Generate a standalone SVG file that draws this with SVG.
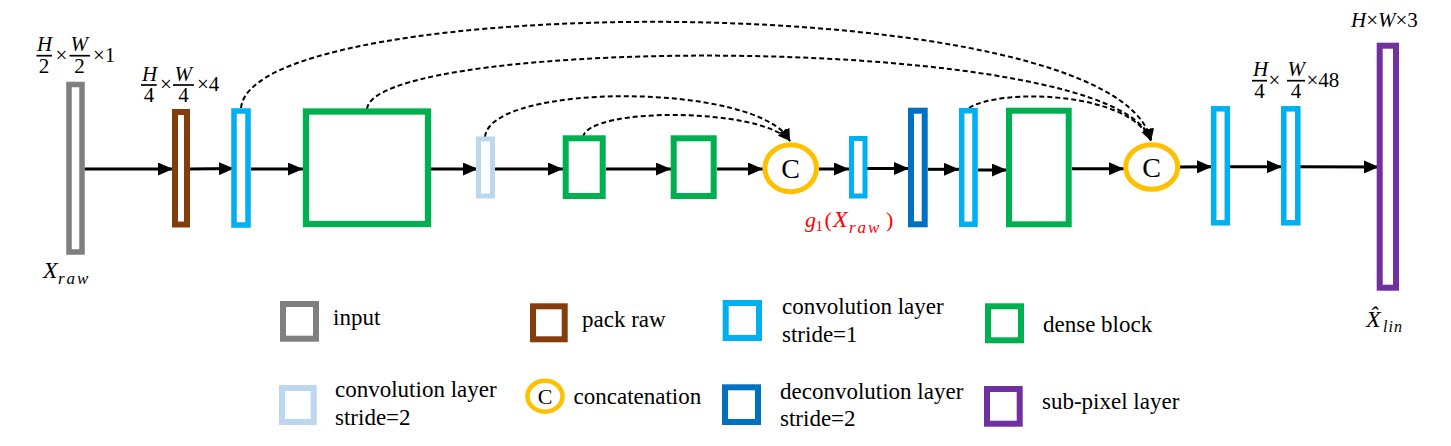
<svg xmlns="http://www.w3.org/2000/svg" width="1451" height="446" viewBox="0 0 1451 446">
<style>
.n{fill:#fff}
.gray{stroke:#7F7F7F}
.brown{stroke:#843C0C}
.conv1{stroke:#00B0F0}
.conv2{stroke:#BDD7EE}
.dense{stroke:#00B050}
.deconv{stroke:#0070C0}
.sub{stroke:#7030A0}
.cat{stroke:#FFC000}
.main{stroke:#000;stroke-width:3;fill:none}
.dash{stroke:#000;stroke-width:2;fill:none;stroke-dasharray:5,3}
.dot{stroke:#000;stroke-width:2.5;fill:none;stroke-dasharray:2,2}
.thin{stroke:#000;stroke-width:1.5;fill:none}
.bar{stroke:#000;stroke-width:1.7}
text{font-family:"Liberation Serif","Times New Roman",serif;fill:#000}
.lg{font-size:23px}
.m{font-size:21px}
.i{font-style:italic}
.red{fill:#FF0000}
</style>
<defs>
<marker id="a" markerUnits="userSpaceOnUse" markerWidth="15" markerHeight="13" refX="15" refY="6.5" orient="auto"><path d="M0,0 L15,6.5 L0,13 z" fill="#000"/></marker>
<marker id="d" markerUnits="userSpaceOnUse" markerWidth="12" markerHeight="11" refX="12" refY="5.5" orient="auto"><path d="M0,0 L12,5.5 L0,11 z" fill="#000"/></marker>
<marker id="s" markerUnits="userSpaceOnUse" markerWidth="11" markerHeight="10" refX="11" refY="5" orient="auto"><path d="M0,0 L11,5 L0,10 z" fill="#000"/></marker>
</defs>

<g id="connectors">
<line class="main" x1="84.5" y1="169" x2="173" y2="169" marker-end="url(#a)"/>
<line class="main" x1="190" y1="169" x2="234" y2="168.5" marker-end="url(#a)"/>
<line class="main" x1="251" y1="169" x2="303" y2="169" marker-end="url(#a)"/>
<line class="main" x1="431" y1="169" x2="478" y2="169" marker-end="url(#a)"/>
<line class="main" x1="495" y1="169" x2="563" y2="169" marker-end="url(#a)"/>
<line class="main" x1="606" y1="169" x2="671" y2="169" marker-end="url(#a)"/>
<line class="main" x1="717" y1="169" x2="763" y2="169" marker-end="url(#a)"/>
<line class="main" x1="819" y1="169" x2="849" y2="169" marker-end="url(#a)"/>
<line class="main" x1="867" y1="168.5" x2="909" y2="168.5" marker-end="url(#a)"/>
<line class="main" x1="928" y1="169.3" x2="959" y2="169.3" marker-end="url(#a)"/>
<line class="main" x1="978" y1="170" x2="1007" y2="170" marker-end="url(#a)"/>
<line class="main" x1="1072" y1="168.7" x2="1124" y2="168.7" marker-end="url(#a)"/>
<line class="main" x1="1180" y1="167" x2="1212" y2="166.7" marker-end="url(#a)"/>
<line class="main" x1="1230" y1="166.7" x2="1282" y2="166.7" marker-end="url(#a)"/>
<line class="main" x1="1300" y1="166.7" x2="1379" y2="167" marker-end="url(#a)"/>

<path class="dash" d="M241,108 C252,-10 1120,-14 1151,141" marker-end="url(#d)"/>
<path class="dash" d="M367,109 C375,35 1120,31 1151,141" marker-end="url(#d)"/>
<path class="dash" d="M485,137 C490,82 760,82 790,141" marker-end="url(#d)"/>
<path class="dash" d="M583,137 C588,107 760,107 790,141" marker-end="url(#d)"/>
<path class="dash" d="M969,108 C1000,88 1130,91 1151,141" marker-end="url(#d)"/>

<line class="thin" x1="316" y1="167.7" x2="419" y2="167.7" marker-end="url(#s)"/>
<path class="dot" d="M316,167 C340,136 395,132 416,166" marker-end="url(#s)"/>
<path class="dot" d="M316,167 C335,150 365,148 379,165" marker-end="url(#s)"/>
<path class="dot" d="M353,167 C370,150 405,148 417,166" marker-end="url(#s)"/>
</g>

<g id="input"><rect class="n gray" x="69" y="84.5" width="13" height="167.5" stroke-width="5.5"/></g>
<g id="packraw"><rect class="n brown" x="175" y="112" width="12" height="112.5" stroke-width="6"/></g>
<g id="conv_a"><rect class="n conv1" x="234" y="111" width="14" height="114" stroke-width="5.5"/></g>
<g id="dense_a"><rect class="n dense" x="306" y="111.5" width="122" height="112.5" stroke-width="6.3"/></g>
<g id="conv_s2"><rect class="n conv2" x="478.5" y="139" width="14" height="57" stroke-width="5"/></g>
<g id="dense_b"><rect class="n dense" x="565.7" y="138.3" width="37" height="57.7" stroke-width="6"/></g>
<g id="dense_c"><rect class="n dense" x="673.7" y="138.3" width="40" height="57.7" stroke-width="6"/></g>
<g id="concat1"><ellipse class="n cat" cx="790.7" cy="168.3" rx="25.8" ry="23.5" stroke-width="5"/><text x="790.7" y="178" font-size="28" text-anchor="middle">C</text></g>
<g id="conv_b"><rect class="n conv1" x="851.5" y="138.5" width="13.5" height="57.5" stroke-width="5"/></g>
<g id="deconv"><rect class="n deconv" x="911" y="110.7" width="13.7" height="113.6" stroke-width="6"/></g>
<g id="conv_c"><rect class="n conv1" x="961.7" y="110.7" width="13.3" height="113.6" stroke-width="5.5"/></g>
<g id="dense_d"><rect class="n dense" x="1009" y="110.7" width="59.7" height="113.6" stroke-width="6"/></g>
<g id="concat2"><ellipse class="n cat" cx="1151.7" cy="167" rx="26" ry="22.3" stroke-width="5"/><text x="1151.7" y="177" font-size="28" text-anchor="middle">C</text></g>
<g id="conv_d"><rect class="n conv1" x="1213.7" y="108.8" width="13.6" height="114" stroke-width="5.5"/></g>
<g id="conv_e"><rect class="n conv1" x="1283.8" y="108.8" width="14" height="114" stroke-width="5.5"/></g>
<g id="subpixel"><rect class="n sub" x="1379.7" y="45.7" width="16.3" height="242" stroke-width="6"/></g>

<g id="labels">
<text class="m i" x="37" y="51">H</text>
<line class="bar" x1="36.5" y1="55.7" x2="52" y2="55.7"/>
<text class="m" x="44" y="73" text-anchor="middle">2</text>
<text class="m" x="55.5" y="62">×</text>
<text class="m i" x="70.5" y="51">W</text>
<line class="bar" x1="69.5" y1="55.7" x2="90" y2="55.7"/>
<text class="m" x="79.5" y="73" text-anchor="middle">2</text>
<text class="m" x="93" y="62">×1</text>

<text class="m i" x="142" y="80.5">H</text>
<line class="bar" x1="141" y1="85" x2="156.7" y2="85"/>
<text class="m" x="149" y="102" text-anchor="middle">4</text>
<text class="m" x="160" y="91">×</text>
<text class="m i" x="174.5" y="80.5">W</text>
<line class="bar" x1="173" y1="85" x2="194" y2="85"/>
<text class="m" x="183.5" y="102" text-anchor="middle">4</text>
<text class="m" x="197" y="91">×4</text>

<text class="m i" x="1253" y="76">H</text>
<line class="bar" x1="1252" y1="80.7" x2="1267" y2="80.7"/>
<text class="m" x="1259.5" y="98" text-anchor="middle">4</text>
<text class="m" x="1268.5" y="86.7">×</text>
<text class="m i" x="1287.5" y="76">W</text>
<line class="bar" x1="1287" y1="80.7" x2="1305" y2="80.7"/>
<text class="m" x="1296" y="98" text-anchor="middle">4</text>
<text class="m" x="1306.5" y="86.7">×48</text>

<text x="1351" y="26.5" font-size="21"><tspan class="i">H</tspan>×<tspan class="i">W</tspan>×3</text>

<text x="43" y="278" font-size="24" class="i">X<tspan x="58" dy="5.5" font-size="17" letter-spacing="2">raw</tspan></text>

<text x="1366" y="327" font-size="24" class="i">X̂<tspan x="1383" dy="5" font-size="16" letter-spacing="1">lin</tspan></text>

<text class="red" x="805" y="227" font-size="22"><tspan class="i">g</tspan><tspan x="815.5" dy="4" font-size="15">1</tspan><tspan x="824.5" dy="-4">(</tspan><tspan x="833" class="i" font-size="24">X</tspan><tspan x="849" dy="5.5" class="i" font-size="17" letter-spacing="2">raw</tspan><tspan x="886" dy="-5.5">)</tspan></text>
</g>

<g id="legend">
<rect class="n gray" x="283" y="304" width="33" height="34.7" stroke-width="6"/>
<text class="lg" x="333" y="325">input</text>
<rect class="n brown" x="533" y="306.3" width="31.7" height="33" stroke-width="6"/>
<text class="lg" x="582" y="327">pack raw</text>
<rect class="n conv1" x="725.7" y="303" width="33.3" height="35" stroke-width="6"/>
<text class="lg" x="782" y="313.5">convolution layer</text>
<text class="lg" x="782" y="341.5">stride=1</text>
<rect class="n dense" x="988" y="306.3" width="33" height="34" stroke-width="6"/>
<text class="lg" x="1043" y="331.5">dense block</text>
<rect class="n conv2" x="282" y="388" width="31.7" height="34" stroke-width="6"/>
<text class="lg" x="335" y="397">convolution layer</text>
<text class="lg" x="335" y="425">stride=2</text>
<ellipse class="n cat" cx="545" cy="396.2" rx="17.5" ry="15.5" stroke-width="4.5"/>
<text x="545" y="404" font-size="22" text-anchor="middle">C</text>
<text class="lg" x="573.5" y="403.5">concatenation</text>
<rect class="n deconv" x="725" y="387.3" width="33" height="34.7" stroke-width="6"/>
<text class="lg" x="780" y="398.5">deconvolution layer</text>
<text class="lg" x="780" y="426">stride=2</text>
<rect class="n sub" x="987" y="389" width="32.7" height="34.7" stroke-width="6"/>
<text class="lg" x="1042" y="408.5">sub-pixel layer</text>
</g>
</svg>
